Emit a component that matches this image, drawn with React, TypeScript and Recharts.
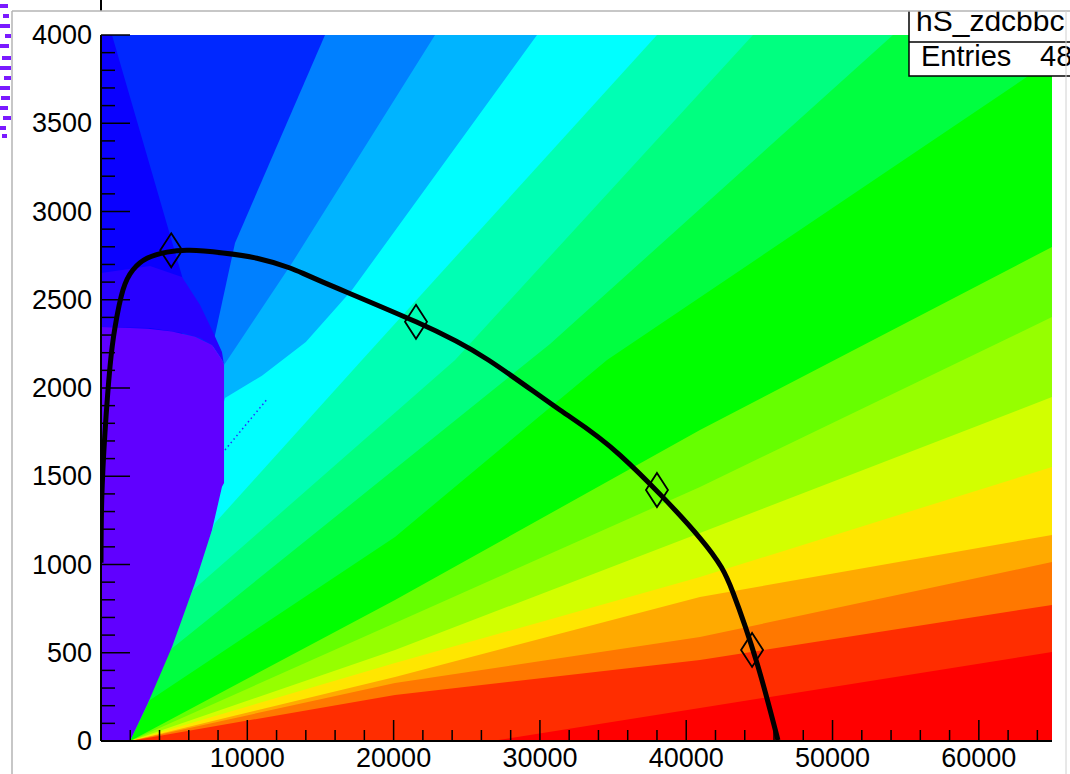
import React from 'react';
import { ComposedChart, Area, Line, Scatter, XAxis, YAxis } from 'recharts';

// tick positions (majors carry a label)
const xTicks = [0, 2000, 4000, 6000, 8000, 10000, 12000, 14000, 16000, 18000, 20000, 22000, 24000, 26000, 28000, 30000, 32000, 34000, 36000, 38000, 40000, 42000, 44000, 46000, 48000, 50000, 52000, 54000, 56000, 58000, 60000, 62000, 64000];
const yTicks = [0, 100, 200, 300, 400, 500, 600, 700, 800, 900, 1000, 1100, 1200, 1300, 1400, 1500, 1600, 1700, 1800, 1900, 2000, 2100, 2200, 2300, 2400, 2500, 2600, 2700, 2800, 2900, 3000, 3100, 3200, 3300, 3400, 3500, 3600, 3700, 3800, 3900, 4000];

// colour levels of the background map, from top-left to bottom-right
const background = [{ x: 0, y: 4000 }, { x: 65000, y: 4000 }];
const backgroundColor = '#0a00ff';

// blue wedge right of the dark strip: [low, high]
const blueWedge = [
  { x: 750, r: [4000, 4000] }, { x: 5550, r: [2630, 4000] }, { x: 5550, r: [0, 4000] }, { x: 65000, r: [0, 4000] },
];

// each contour edge; the level below/right of it is filled with the matching colour
const edgeMidBlue = [{ x: 2000, y: 0 }, { x: 7720, y: 2272 }, { x: 9160, y: 2822 }, { x: 15310, y: 4000 }, { x: 65000, y: 4000 }];
const edgeLightBlue = [{ x: 2000, y: 0 }, { x: 8410, y: 2130 }, { x: 13055, y: 2708 }, { x: 22830, y: 4000 }, { x: 65000, y: 4000 }];
const edgeCyan = [{ x: 2000, y: 0 }, { x: 8475, y: 1943 }, { x: 11000, y: 2070 }, { x: 14000, y: 2260 }, { x: 17155, y: 2555 }, { x: 29800, y: 4000 }, { x: 65000, y: 4000 }];
const edgeAqua = [{ x: 2000, y: 0 }, { x: 7790, y: 1235 }, { x: 17840, y: 2159 }, { x: 38000, y: 4000 }, { x: 65000, y: 4000 }];
const edgeMint = [{ x: 2000, y: 0 }, { x: 6290, y: 856 }, { x: 24200, y: 2159 }, { x: 44560, y: 4000 }, { x: 65000, y: 4000 }];
const edgeSpring = [{ x: 2000, y: 0 }, { x: 4716, y: 516 }, { x: 30690, y: 2249 }, { x: 54130, y: 4000 }, { x: 65000, y: 4000 }];
const edgeGreen = [{ x: 2000, y: 0 }, { x: 3350, y: 232 }, { x: 20095, y: 1156 }, { x: 34585, y: 2159 }, { x: 65000, y: 3858 }];
const edgeLime = [{ x: 2000, y: 0 }, { x: 20095, y: 799 }, { x: 40940, y: 1762 }, { x: 65000, y: 2799 }];
const edgeChartreuse = [{ x: 2000, y: 0 }, { x: 20095, y: 669 }, { x: 40940, y: 1439 }, { x: 65000, y: 2402 }];
const edgePear = [{ x: 2000, y: 0 }, { x: 20095, y: 516 }, { x: 40940, y: 1178 }, { x: 65000, y: 1949 }];
const edgeYellow = [{ x: 2000, y: 0 }, { x: 20095, y: 442 }, { x: 40940, y: 929 }, { x: 65000, y: 1552 }];
const edgeAmber = [{ x: 2000, y: 0 }, { x: 20095, y: 363 }, { x: 40940, y: 816 }, { x: 65000, y: 1167 }];
const edgeOrange = [{ x: 2000, y: 0 }, { x: 20095, y: 329 }, { x: 40940, y: 589 }, { x: 65000, y: 1014 }];
const edgeVermilion = [{ x: 2000, y: 0 }, { x: 20095, y: 261 }, { x: 40940, y: 459 }, { x: 65000, y: 771 }];
const edgeRed = [{ x: 26725, y: 0 }, { x: 40940, y: 187 }, { x: 65000, y: 504 }];

const levels = [
  { edge: edgeMidBlue, color: '#0080ff' },
  { edge: edgeLightBlue, color: '#00b4ff' },
  { edge: edgeCyan, color: '#00ffff' },
  { edge: edgeAqua, color: '#00ffb4' },
  { edge: edgeMint, color: '#00ff80' },
  { edge: edgeSpring, color: '#00ff40' },
  { edge: edgeGreen, color: '#00ff00' },
  { edge: edgeLime, color: '#66ff00' },
  { edge: edgeChartreuse, color: '#96ff00' },
  { edge: edgePear, color: '#d2ff00' },
  { edge: edgeYellow, color: '#ffe600' },
  { edge: edgeAmber, color: '#ffaa00' },
  { edge: edgeOrange, color: '#ff7800' },
  { edge: edgeVermilion, color: '#ff2d00' },
  { edge: edgeRed, color: '#ff0000' },
];

// low-x blob: [low, high] bands
const indigoBand = [
  { x: 0, r: [2346, 2652] }, { x: 3350, r: [2340, 2691] }, { x: 5536, r: [2312, 2629] },
  { x: 6770, r: [2283, 2470] }, { x: 7587, r: [2244, 2329] }, { x: 8270, r: [2159, 2204] }, { x: 8410, r: [2130, 2130] },
];
const violetBlob = [
  { x: 0, r: [0, 2346] }, { x: 1982, r: [0, 2340] }, { x: 3212, r: [215, 2335] }, { x: 4853, r: [533, 2320] },
  { x: 6425, r: [895, 2290] }, { x: 7587, r: [1195, 2244] }, { x: 8270, r: [1440, 2159] }, { x: 8410, r: [1462, 2130] },
];
const strayDots = [{ x: 8475, y: 1649 }, { x: 11415, y: 1943 }];

// fitted curve and measured points
const curve = [
  { x: 0, y: 1010 }, { x: 50, y: 1365 }, { x: 270, y: 1745 }, { x: 615, y: 2120 }, { x: 960, y: 2345 },
  { x: 1500, y: 2555 }, { x: 2190, y: 2670 }, { x: 3145, y: 2735 }, { x: 4510, y: 2770 }, { x: 6080, y: 2780 },
  { x: 8340, y: 2765 }, { x: 10660, y: 2735 }, { x: 12920, y: 2680 }, { x: 15170, y: 2600 }, { x: 21530, y: 2375 },
  { x: 26450, y: 2160 }, { x: 31370, y: 1875 }, { x: 35470, y: 1620 }, { x: 40940, y: 1150 }, { x: 43200, y: 840 },
  { x: 44840, y: 440 }, { x: 46270, y: 5 },
];
const points = [{ x: 4800, y: 2780 }, { x: 21530, y: 2375 }, { x: 38000, y: 1422 }, { x: 44500, y: 516 }];

const font = "'Liberation Sans', Arial, Helvetica, sans-serif";

const YTick = (props: any) => {
  const { x, y, payload } = props;
  const major = payload.value % 500 === 0;
  return (
    <g>
      <line x1={x} y1={y} x2={x + (major ? 29 : 14)} y2={y} stroke="#000" strokeWidth={1.5} />
      {major && (
        <text x={x - 9} y={y} textAnchor="end" dominantBaseline="central" fontSize={27} fontFamily={font} fill="#000">
          {payload.value}
        </text>
      )}
    </g>
  );
};

const XTick = (props: any) => {
  const { x, y, payload } = props;
  const major = payload.value % 10000 === 0;
  return (
    <g>
      <line x1={x} y1={y} x2={x} y2={y - (major ? 21 : 11)} stroke="#000" strokeWidth={1.5} />
      {major && payload.value > 0 && (
        <text x={x} y={y + 17} textAnchor="middle" dominantBaseline="central" fontSize={27} fontFamily={font} fill="#000">
          {payload.value}
        </text>
      )}
    </g>
  );
};

const Diamond = (props: any) => {
  const { cx, cy } = props;
  return (
    <polygon
      points={`${cx},${cy - 17} ${cx + 11},${cy} ${cx},${cy + 17} ${cx - 11},${cy}`}
      fill="none"
      stroke="#000"
      strokeWidth={1.8}
    />
  );
};

const specks = [
  [0, 4, 8], [3, 14, 6], [0, 24, 10], [5, 34, 6], [0, 44, 9], [2, 56, 9], [0, 66, 11], [4, 76, 7],
  [0, 86, 10], [1, 96, 9], [0, 106, 8], [3, 116, 8], [0, 126, 6], [2, 134, 5],
];

export default function App() {
  return (
    <div style={{ position: 'absolute', left: 0, top: 0, width: 1070, height: 774, overflow: 'hidden', background: '#fff' }}>
      <ComposedChart width={1070} height={774} margin={{ top: 35, right: 18, bottom: 0, left: 0 }}>
        <Area data={background} dataKey="y" type="linear" stroke="none" fill={backgroundColor} fillOpacity={1}
          isAnimationActive={false} dot={false} activeDot={false} />
        <Area data={blueWedge} dataKey="r" type="linear" stroke="none" fill="#0028ff" fillOpacity={1}
          isAnimationActive={false} dot={false} activeDot={false} />
        {levels.map((l, i) => (
          <Area key={i} data={l.edge} dataKey="y" type="linear" stroke="none" fill={l.color} fillOpacity={1}
            isAnimationActive={false} dot={false} activeDot={false} />
        ))}
        <Area data={indigoBand} dataKey="r" type="linear" stroke="none" fill="#2800ff" fillOpacity={1}
          isAnimationActive={false} dot={false} activeDot={false} />
        <Area data={violetBlob} dataKey="r" type="linear" stroke="none" fill="#6000ff" fillOpacity={1}
          isAnimationActive={false} dot={false} activeDot={false} />
        <Line data={strayDots} dataKey="y" type="linear" stroke="#2a2aff" strokeWidth={1.5} strokeDasharray="1.5 3"
          dot={false} activeDot={false} isAnimationActive={false} />
        <Line data={curve} dataKey="y" type="natural" stroke="#000" strokeWidth={5}
          dot={false} activeDot={false} isAnimationActive={false} />
        <Scatter data={points} shape={<Diamond />} isAnimationActive={false} />
        <XAxis type="number" dataKey="x" domain={[0, 65000]} allowDataOverflow ticks={xTicks} interval={0}
          tick={<XTick />} tickSize={0} tickMargin={0} tickLine={false} height={33}
          axisLine={{ stroke: '#000', strokeWidth: 2 }} />
        <YAxis type="number" dataKey="y" domain={[0, 4000]} allowDataOverflow ticks={yTicks} interval={0}
          tick={<YTick />} tickSize={0} tickMargin={0} tickLine={false} width={101}
          axisLine={{ stroke: '#000', strokeWidth: 2 }} />
      </ComposedChart>
      <svg width={1070} height={774} style={{ position: 'absolute', left: 0, top: 0, pointerEvents: 'none' }}>
        <rect x={909} y={-10} width={200} height={86} fill="#fff" stroke="#000" strokeWidth={1.5} />
        <line x1={909} y1={42} x2={1110} y2={42} stroke="#000" strokeWidth={1.5} />
        <text x={916} y={31} fontSize={30} fontFamily={font} fill="#000">hS_zdcbbc</text>
        <text x={921} y={66} fontSize={29} fontFamily={font} fill="#000">Entries</text>
        <text x={1040} y={66} fontSize={29} fontFamily={font} fill="#000">48</text>
        <rect x={0} y={0} width={1070} height={11} fill="#fff" />
        <rect x={0} y={0} width={12} height={774} fill="#fff" />
        <line x1={101} y1={0} x2={101} y2={11} stroke="#000" strokeWidth={2} />
        <line x1={12} y1={11} x2={1070} y2={11} stroke="#b4b4b4" strokeWidth={1.5} />
        <line x1={12} y1={11} x2={12} y2={774} stroke="#b4b4b4" strokeWidth={1.5} />
        <line x1={1066} y1={11} x2={1066} y2={774} stroke="#d0d0d0" strokeWidth={1} />
        {specks.map((s, i) => (
          <rect key={i} x={s[0]} y={s[1]} width={s[2]} height={4} fill="#7a1aff" />
        ))}
      </svg>
    </div>
  );
}
